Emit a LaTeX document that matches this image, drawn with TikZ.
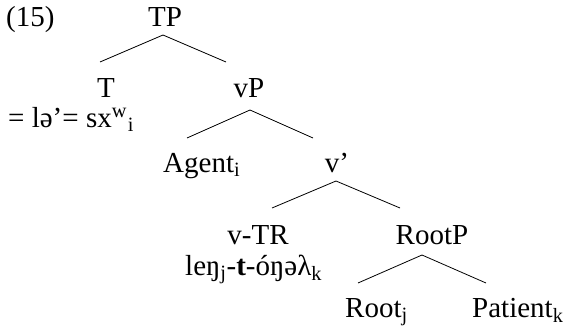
\documentclass[tikz,border=0pt]{standalone}
\usepackage{fontspec}
\setmainfont{Liberation Serif}
\usetikzlibrary{calc}
\tikzset{
  lab/.style={inner sep=0pt, anchor=base, font=\fontsize{29}{34}\selectfont},
  labl/.style={lab, anchor=base west},
  branch/.style={line width=0.8pt}
}
\begin{document}
\begin{tikzpicture}[x=1pt,y=-1pt]
\useasboundingbox (0,0) rectangle (564,326);
\node[labl] (ex) at (6,27) {(15)};
\node[lab] (TP) at (165,27) {TP};
\node[lab] (T) at (106,98) {T};
\node[lab] (vP) at (249,98) {vP};
\node[labl] (Tform) at (8,127) {= lə’= sx\textsuperscript{w}\kern1pt\textsubscript{i}};
\node[labl] (Agent) at (163,172) {Agent\textsubscript{i}};
\node[lab] (vbar) at (337,172) {v’};
\node[lab] (vTR) at (258,244) {v-TR};
\node[labl] (vform) at (185,275) {leŋ\textsubscript{j}-\textbf{t}-óŋəλ\textsubscript{k}};
\node[lab] (RootP) at (432,244) {RootP};
\node[labl] (Root) at (345,317) {Root\textsubscript{j}};
\node[labl] (Patient) at (472,317) {Patient\textsubscript{k}};
% branches
\draw[branch] ($(T.base)+(-6,-36)$) -- ($(TP.base)+(-2,8)$) -- ($(vP.base)+(-23,-36)$);
\draw[branch] ($(Agent.base west)+(24,-34)$) -- ($(vP.base)+(1,12)$) -- ($(vbar.base)+(-24,-34)$);
\draw[branch] ($(vTR.base)+(14,-36)$) -- ($(vbar.base)+(-1,9)$) -- ($(RootP.base)+(-32,-36)$);
\draw[branch] ($(Root.base west)+(13,-34)$) -- ($(RootP.base)+(-10,11)$) -- ($(Patient.base west)+(14,-34)$);
\end{tikzpicture}
\end{document}
